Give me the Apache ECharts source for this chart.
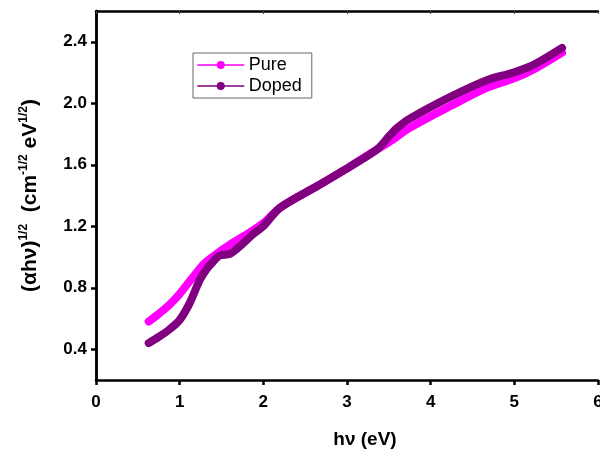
<!DOCTYPE html>
<html>
<head>
<meta charset="utf-8">
<script src="https://cdn.jsdelivr.net/npm/echarts@6/dist/echarts.min.js"></script>
<style>
  html, body { margin: 0; padding: 0; background: #fff; }
  #chart { width: 600px; height: 450px; }
</style>
</head>
<body>
<div id="chart"></div>
<script>
// photon energy (eV) vs (alpha h nu)^(1/2)
var pureX = [0.63, 0.75, 0.88, 1.0, 1.16, 1.30, 1.44, 1.6, 1.84, 2.0, 2.2, 2.64, 3.04, 3.3, 3.51, 3.75, 4.23, 4.67, 4.99, 5.23, 5.57];
var pureY = [0.58, 0.63, 0.69, 0.76, 0.87, 0.96, 1.02, 1.08, 1.16, 1.22, 1.32, 1.46, 1.59, 1.68, 1.75, 1.84, 1.98, 2.10, 2.16, 2.22, 2.33];

var dopedX = [0.63, 0.75, 0.88, 1.0, 1.12, 1.24, 1.32, 1.40, 1.48, 1.6, 1.72, 1.88, 2.0, 2.2, 2.64, 3.04, 3.36, 3.51, 3.6, 3.75, 4.23, 4.67, 4.99, 5.23, 5.57];
var dopedY = [0.44, 0.48, 0.53, 0.59, 0.70, 0.85, 0.92, 0.97, 1.01, 1.02, 1.07, 1.15, 1.20, 1.32, 1.46, 1.59, 1.70, 1.79, 1.84, 1.90, 2.04, 2.15, 2.20, 2.25, 2.36];

var yTicks = [0.4, 0.8, 1.2, 1.6, 2.0, 2.4];

function pairs(xs, ys) {
    return xs.map(function (x, i) { return [x, ys[i]]; });
}

var font = 'Liberation Sans, Arial, sans-serif';

var option = {
    backgroundColor: '#fff',
    animation: false,
    grid: { left: 96, right: 2, top: 11, bottom: 70, outerBoundsMode: 'none' },
    legend: {
        orient: 'vertical',
        left: 193,
        top: 53,
        padding: [3, 10, 3, 4],
        itemGap: 3,
        itemWidth: 46,
        itemHeight: 10,
        borderColor: '#666',
        borderWidth: 1,
        lineStyle: { width: 1.5 },
        textStyle: { fontFamily: font, fontSize: 18, color: '#000' },
        data: ['Pure', 'Doped']
    },
    xAxis: [{
        type: 'value',
        min: 0, max: 6, interval: 1,
        name: 'hν (eV)',
        nameLocation: 'middle',
        nameGap: 50,
        nameTextStyle: { fontFamily: font, fontWeight: 'bold', fontSize: 19, color: '#000', padding: [0, 0, 0, 36] },
        axisLine: { lineStyle: { color: '#000', width: 2.5 } },
        axisTick: { inside: false, length: 5, lineStyle: { color: '#000', width: 2.5 } },
        axisLabel: { margin: 14, fontFamily: font, fontWeight: 'bold', fontSize: 17, color: '#000' },
        splitLine: { show: false }
    }, {
        type: 'value',
        position: 'top',
        min: 0, max: 6, interval: 1,
        axisLine: { lineStyle: { color: '#000', width: 2.5 } },
        axisTick: { inside: true, length: 3, lineStyle: { color: '#444', width: 1 } },
        axisLabel: { show: false },
        splitLine: { show: false }
    }],
    yAxis: [{
        type: 'value',
        min: 0.2, max: 2.6,
        name: '(αhν){sup|1/2}  (cm{sup|-1/2} eV{sup|1/2})',
        nameLocation: 'middle',
        nameGap: 54,
        nameRotate: 90,
        nameTextStyle: {
            fontFamily: font, fontWeight: 'bold', fontSize: 21, color: '#000',
            rich: {
                sup: { fontFamily: font, fontWeight: 'bold', fontSize: 12, color: '#000', verticalAlign: 'top', padding: [0, 0, 12, 0] }
            }
        },
        axisLine: { show: true, lineStyle: { color: '#000', width: 2.5 } },
        axisTick: { show: true, customValues: yTicks, length: 5, lineStyle: { color: '#000', width: 2.5 } },
        axisLabel: {
            customValues: yTicks, margin: 9,
            fontFamily: font, fontWeight: 'bold', fontSize: 17, color: '#000',
            formatter: function (v) { return v.toFixed(1); }
        },
        splitLine: { show: false }
    }, {
        type: 'value',
        position: 'right',
        min: 0.2, max: 2.6,
        axisLine: { show: true, lineStyle: { color: '#000', width: 2.5 } },
        axisTick: { show: false },
        axisLabel: { show: false },
        splitLine: { show: false }
    }],
    series: [{
        name: 'Pure',
        type: 'line',
        data: pairs(pureX, pureY),
        smooth: 0.3,
        symbol: 'circle',
        symbolSize: 8,
        showSymbol: false,
        color: '#ff00ff',
        lineStyle: { width: 8, color: '#ff00ff', cap: 'round', join: 'round' }
    }, {
        name: 'Doped',
        type: 'line',
        data: pairs(dopedX, dopedY),
        smooth: 0.3,
        symbol: 'circle',
        symbolSize: 8,
        showSymbol: false,
        color: '#800080',
        lineStyle: { width: 8, color: '#800080', cap: 'round', join: 'round' }
    }]
};

var myChart = echarts.init(document.getElementById('chart'));
myChart.setOption(option);
</script>
</body>
</html>
